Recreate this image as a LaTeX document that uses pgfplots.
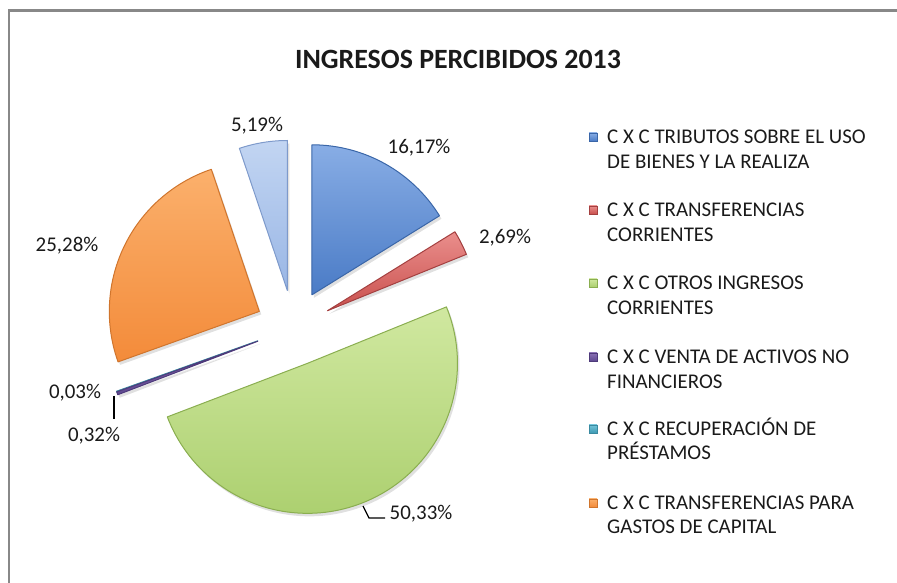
\documentclass[border=0pt]{standalone}
\usepackage{fontspec}
\setmainfont{Carlito}
\usepackage{pgfplots}
\pgfplotsset{compat=1.18}
% slice colours: top / bottom / edge
\definecolor{BlueT}{HTML}{88ADE5}\definecolor{BlueB}{HTML}{4A7BC6}\definecolor{BlueE}{HTML}{3A66A8}
\definecolor{RedT}{HTML}{EA8E8C}\definecolor{RedB}{HTML}{C9504D}\definecolor{RedE}{HTML}{A44040}
\definecolor{GreenT}{HTML}{D0E8A0}\definecolor{GreenB}{HTML}{ABCF6E}\definecolor{GreenE}{HTML}{8AAE50}
\definecolor{PurpleT}{HTML}{8A70B4}\definecolor{PurpleB}{HTML}{5E4890}\definecolor{PurpleE}{HTML}{4E3A7A}
\definecolor{CyanT}{HTML}{72C3D8}\definecolor{CyanB}{HTML}{3E9AB3}\definecolor{CyanE}{HTML}{3A8AA0}
\definecolor{OrangeT}{HTML}{FBB06C}\definecolor{OrangeB}{HTML}{F38B3A}\definecolor{OrangeE}{HTML}{D0752D}
\definecolor{LBlueT}{HTML}{C2D5F2}\definecolor{LBlueB}{HTML}{99B6E5}\definecolor{LBlueE}{HTML}{7E9ACB}
\definecolor{frame}{HTML}{888888}
\definecolor{txt}{HTML}{1A1A1A}
% values (percent), clockwise from 12 o'clock, in series order
\def\piedata{16.17/Blue,2.69/Red,50.33/Green,0.32/Purple,0.03/Cyan,25.28/Orange,5.19/LBlue}
\def\Cx{293.5}\def\Cy{255}\def\Dx{38}\def\R{150}
\tikzset{lab/.style={font=\fontsize{21}{25}\selectfont, inner sep=0pt, text=txt}}
\begin{document}
\begin{tikzpicture}
\gdef\cum{0}
\gdef\piecmds{}
\foreach \v/\col in \piedata {
  \pgfmathsetmacro\s{90-3.6*\cum}
  \pgfmathsetmacro\e{90-3.6*(\cum+\v)}
  \pgfmathsetmacro\m{(\s+\e)/2}
  \pgfmathsetmacro\ax{\Cx+\Dx*cos(\m)}
  \pgfmathsetmacro\ay{\Cy+\Dx*sin(\m)}
  \pgfmathsetmacro\bx{\ax+\R*cos(\s)}
  \pgfmathsetmacro\by{\ay+\R*sin(\s)}
  \xdef\piecmds{%
    \noexpand\fill[black,opacity=0.12,xshift=2bp,yshift=-3bp] (axis cs:\ax,\ay) -- (axis cs:\bx,\by) arc[start angle=\s, end angle=\e, radius=\R bp] -- cycle;
    \noexpand\shade[top color=\col T, bottom color=\col B, draw=\col E, line width=1bp, line join=round] (axis cs:\ax,\ay) -- (axis cs:\bx,\by) arc[start angle=\s, end angle=\e, radius=\R bp] -- cycle;
    \unexpanded\expandafter{\piecmds}}
  \pgfmathsetmacro\nc{\cum+\v}
  \xdef\cum{\nc}
}
\begin{axis}[
  width=897bp, height=583bp, scale only axis,
  xmin=0, xmax=897, ymin=0, ymax=583,
  hide axis, clip=false,
]
\path (axis cs:0,0) rectangle (axis cs:897,583);
% chart frame (left and top edges)
\fill[frame] (axis cs:7.7,0) rectangle (axis cs:10.3,{583-9.2});
\fill[frame] (axis cs:7.7,{583-9.2}) rectangle (axis cs:897,{583-11.8});
% title
\node[anchor=base, inner sep=0pt, text=txt, font=\fontsize{28}{34}\selectfont\bfseries] at (axis cs:458,{583-69}) {INGRESOS PERCIBIDOS 2013};
% pie slices
\piecmds
% data labels
\node[lab, anchor=base] at (axis cs:419,{583-154}) {16,17\%};
\node[lab, anchor=base] at (axis cs:505,{583-244}) {2,69\%};
\node[lab, anchor=base] at (axis cs:257,{583-132}) {5,19\%};
\node[lab, anchor=base] at (axis cs:67,{583-252}) {25,28\%};
\node[lab, anchor=base] at (axis cs:75,{583-399}) {0,03\%};
\node[lab, anchor=base] at (axis cs:94,{583-442}) {0,32\%};
\node[lab, anchor=base] at (axis cs:421,{583-520}) {50,33\%};
% leader lines
\draw[black, line width=1.3bp] (axis cs:114,{583-396}) -- (axis cs:114,{583-419});
\draw[black, line width=1.3bp] (axis cs:363,{583-506}) -- (axis cs:369,{583-518}) -- (axis cs:385,{583-518});
% legend markers
\shade[top color=BlueT, bottom color=BlueB, draw=BlueE, line width=0.6bp] (axis cs:589,{583-133}) rectangle (axis cs:597,{583-141});
\shade[top color=RedT, bottom color=RedB, draw=RedE, line width=0.6bp] (axis cs:589,{583-206}) rectangle (axis cs:597,{583-214});
\shade[top color=GreenT, bottom color=GreenB, draw=GreenE, line width=0.6bp] (axis cs:589,{583-279}) rectangle (axis cs:597,{583-287});
\shade[top color=PurpleT, bottom color=PurpleB, draw=PurpleE, line width=0.6bp] (axis cs:589,{583-353}) rectangle (axis cs:597,{583-361});
\shade[top color=CyanT, bottom color=CyanB, draw=CyanE, line width=0.6bp] (axis cs:589,{583-425}) rectangle (axis cs:597,{583-433});
\shade[top color=OrangeT, bottom color=OrangeB, draw=OrangeE, line width=0.6bp] (axis cs:589,{583-499}) rectangle (axis cs:597,{583-507});
% legend text
\node[lab, anchor=base west] at (axis cs:607,{583-144}) {C X C TRIBUTOS SOBRE EL USO};
\node[lab, anchor=base west] at (axis cs:607,{583-169}) {DE BIENES Y LA REALIZA};
\node[lab, anchor=base west] at (axis cs:607,{583-217}) {C X C TRANSFERENCIAS};
\node[lab, anchor=base west] at (axis cs:607,{583-242}) {CORRIENTES};
\node[lab, anchor=base west] at (axis cs:607,{583-290}) {C X C OTROS INGRESOS};
\node[lab, anchor=base west] at (axis cs:607,{583-315}) {CORRIENTES};
\node[lab, anchor=base west] at (axis cs:607,{583-364}) {C X C VENTA DE ACTIVOS NO};
\node[lab, anchor=base west] at (axis cs:607,{583-389}) {FINANCIEROS};
\node[lab, anchor=base west] at (axis cs:607,{583-436}) {C X C RECUPERACIÓN DE};
\node[lab, anchor=base west] at (axis cs:607,{583-460}) {PRÉSTAMOS};
\node[lab, anchor=base west] at (axis cs:607,{583-510}) {C X C TRANSFERENCIAS PARA};
\node[lab, anchor=base west] at (axis cs:607,{583-534}) {GASTOS DE CAPITAL};
\end{axis}
\end{tikzpicture}
\end{document}
